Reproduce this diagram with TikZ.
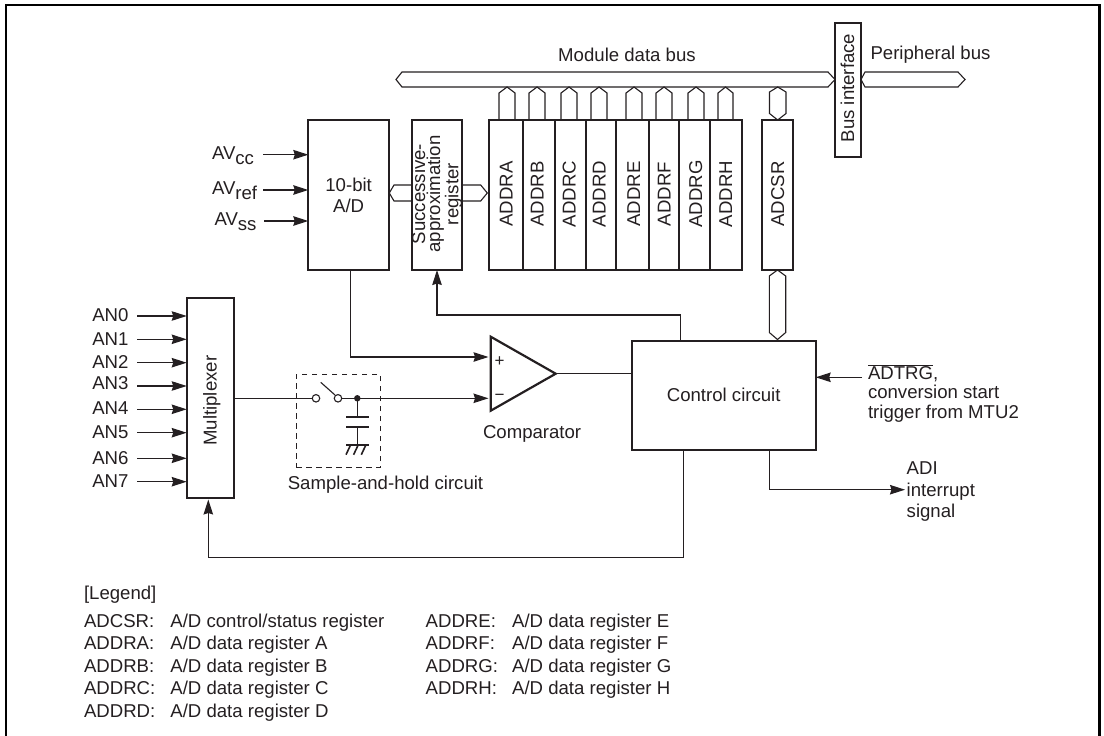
\documentclass[tikz,border=0pt]{standalone}
\usepackage{fontspec}
\setmainfont{Liberation Sans}
\usetikzlibrary{arrows.meta,calc}
\definecolor{ink}{rgb}{0.14,0.12,0.13}
\newcommand{\AVsub}[1]{AV\raisebox{-5pt}{#1}}
\tikzset{
  sig/.style={draw=ink,line width=1.1pt},
  arr/.style={sig,-{Stealth[length=15pt,width=9.5pt,inset=1.5pt]}},
  box/.style={draw=ink,line width=2.2pt,rectangle,inner sep=0pt,outer sep=0pt,font=\fontsize{18.6}{20}\selectfont,text=ink},
  bus/.style={draw=ink,line width=1.1pt,fill=white,line join=miter},
  lab/.style={inner sep=0pt,outer sep=0pt,text=ink,font=\fontsize{18.6}{20}\selectfont,text height=13pt,text depth=0pt},
  labw/.style={lab,anchor=west},
  multi/.style={inner sep=0pt,outer sep=0pt,text=ink,align=left,anchor=north west},
  vtxt/.style={lab,rotate=90}
}
\begin{document}
\begin{tikzpicture}[x=1pt,y=-1pt]
\useasboundingbox (0,0) rectangle (1104,736);
% outer frame (open at the bottom edge of the picture)
\draw[black,line width=2.4pt] (6,736) -- (6,5) -- (1099.5,5) -- (1099.5,736);

% buses
\draw[bus] (402,72) -- (828,72) -- (835,79.5) -- (828,87) -- (402,87) -- (396,79.5) -- cycle;
\draw[bus] (865,72) -- (958,72) -- (965,79.5) -- (958,87) -- (865,87) -- (861,79.5) -- cycle;
\node[lab] (mdb) at (627,55) {Module data bus};
\node[labw] (pb) at (870.5,53) {Peripheral bus};
\node[box,line width=1.1pt,minimum width=26pt,minimum height=134pt,fill=white] (bi) at (848,90) {};
\node[vtxt] (bit) at (847.7,88) {Bus interface};

% register stubs
\foreach \a/\b in {499/515,529/545,561/577,591/607,626/642,656/672,688/704,718/733}{
  \draw[bus] (\a,120) -- (\a,93) -- ({(\a+\b)/2},87) -- (\b,93) -- (\b,120);
}
\draw[bus] (769.5,113.5) -- (769.5,92) -- (777.7,87) -- (786,92) -- (786,113.5) -- (777.7,120) -- cycle;

% registers
\node[box,minimum width=33.4pt,minimum height=150pt] (ra) at (506,195) {};
\node[box,minimum width=32pt,minimum height=150pt] (rb) at (538.7,195) {};
\node[box,minimum width=31pt,minimum height=150pt] (rc) at (570.2,195) {};
\node[box,minimum width=30.6pt,minimum height=150pt] (rd) at (601,195) {};
\node[box,minimum width=32.4pt,minimum height=150pt] (re) at (632.5,195) {};
\node[box,minimum width=30.3pt,minimum height=150pt] (rf) at (663.85,195) {};
\node[box,minimum width=31pt,minimum height=150pt] (rg) at (694.5,195) {};
\node[box,minimum width=31.7pt,minimum height=150pt] (rh) at (725.85,195) {};
\node[box,minimum width=30.4pt,minimum height=150pt] (adcsr) at (777.5,195) {};
\foreach \n/\t/\x in {ta/ADDRA/506,tb/ADDRB/537,tc/ADDRC/569,td/ADDRD/599,te/ADDRE/633.5,tf/ADDRF/664,tg/ADDRG/695.5,th/ADDRH/725.5,tcsr/ADCSR/777.5}{
  \node[vtxt] (\n) at (\x,194) {\t};
}

% SAR
\draw[bus] (411.7,185) -- (394,185) -- (389.3,193) -- (394,201) -- (411.7,201);
\draw[bus] (462,185) -- (480.7,185) -- (487.3,193) -- (480.7,201) -- (462,201);
\node[box,minimum width=50.3pt,minimum height=150pt] (sar) at (436.85,195) {};
\node[inner sep=0pt,outer sep=0pt,rotate=90,align=center,text=ink,font=\fontsize{18.6}{15}\selectfont] (sart) at (437,194)
  {Successive-\\approximation\\register};

% A/D
\node[box,minimum width=80.7pt,minimum height=150pt,align=center,font=\fontsize{18.6}{21}\selectfont] (ad) at (348.65,195)
  {10-bit\\A/D};
\foreach \n/\t/\lx/\sx/\y in {avcc/cc/212/263/154.7,avref/ref/212/263/190,avss/ss/214.5/264/221}{
  \node[labw] (\n) at (\lx,\y-2) {\AVsub{\t}};
  \coordinate (\n s) at (\sx,\y);
  \draw[arr] (\n s) -- (\n s -| ad.west);
}

% Multiplexer
\node[box,minimum width=47pt,minimum height=200.6pt] (mux) at (210.2,398) {};
\node[vtxt] (muxt) at (210,400.7) {Multiplexer};
\foreach \i/\ly/\y in {0/315/316,1/339/339.3,2/362/362.7,3/383/386,4/408/409.3,5/432/432.7,6/458/458.3,7/481/481.7}{
  \node[labw] (an\i) at (92.3,\ly) {AN\i};
  \coordinate (an\i s) at (137.3,\y);
  \draw[arr] (an\i s) -- (an\i s -| mux.west);
}

% Sample and hold
\node[draw=ink,line width=1pt,rectangle,minimum width=84pt,minimum height=93pt,inner sep=0pt,outer sep=0pt,dash pattern=on 5.5pt off 4.5pt] (sh) at (338,420.5) {};
\node[lab] (sht) at (385.5,483) {Sample-and-hold circuit};

% Comparator
\coordinate (cmpA) at (490.7,336.7);
\coordinate (cmpB) at (490.7,410.7);
\coordinate (cmpT) at (555.7,373.7);
\draw[draw=ink,line width=2.2pt,line join=miter] (cmpA) -- (cmpT) -- (cmpB) -- cycle;
\node[lab,font=\fontsize{17}{20}\selectfont] (plus) at (499.7,360) {+};
\node[lab,font=\fontsize{17}{20}\selectfont] (minus) at (499.7,394) {\textminus};
\node[labw] (cmpt) at (483,432) {Comparator};

% switch, capacitor
\coordinate (swa) at (316,398.3);
\coordinate (swb) at (338,398.3);
\coordinate (jn) at (357.3,398.3);
\coordinate (pin) at (488.5,398.3);
\coordinate (pip) at (488.5,357);
\draw[sig] (mux.east |- swa) -- (swa);
\draw[sig] (swb) -- (jn);
\draw[arr] (jn) -- (pin);
\draw[sig] (320.7,382.3) -- (335,395);
\node[circle,draw=ink,fill=white,line width=1.1pt,minimum size=7.5pt,inner sep=0pt] (c1) at (swa) {};
\node[circle,draw=ink,fill=white,line width=1.1pt,minimum size=7.5pt,inner sep=0pt] (c2) at (swb) {};
\node[circle,fill=ink,minimum size=6.5pt,inner sep=0pt] (c3) at (jn) {};
\draw[sig] (jn) -- (357.3,417);
\draw[sig] (357.3,426.7) -- (357.3,444.7);
\draw[ink,line width=2pt] (346,417) -- (369,417);
\draw[ink,line width=2pt] (346,426.7) -- (369,426.7);
\draw[ink,line width=2pt] (346,444.7) -- (369,444.7);
\foreach \x in {350.7,358.3,366}{\draw[ink,line width=1.6pt] (\x,444.7) -- (\x-4.7,454.7);}

% Control circuit
\node[box,minimum width=184pt,minimum height=109pt] (ctl) at (723.7,395.2) {Control circuit};
\draw[bus] (769.3,276) -- (769.3,332.5) -- (777.5,339.5) -- (785.7,332.5) -- (785.7,276) -- (777.5,270) -- cycle;

% connectors
\coordinate (adb) at (350.7,270);
\draw[arr] (adb) |- (pip);
\draw[sig] (cmpT) -- (ctl.west |- cmpT);
\coordinate (ctop) at (680.7,340.7);
\coordinate (stgt) at (437,270);
\draw[arr] (ctop) |- (437,315) -- (stgt);
\coordinate (adtrgs) at (862,377.3);
\draw[arr] (adtrgs) -- (ctl.east |- adtrgs);
\node[multi,font=\fontsize{18.6}{19.5}\selectfont] (adtrg) at (868,364.5) {$\overline{\hbox{ADTRG}}$,\\conversion start\\trigger from MTU2};
\coordinate (adis) at (769.7,449.7);
\coordinate (adie) at (905,489.7);
\draw[arr] (adis) |- (adie);
\node[multi,font=\fontsize{18.6}{21.3}\selectfont] (adi) at (906.7,462) {ADI\\interrupt\\signal};
\coordinate (fbs) at (683.7,449.7);
\coordinate (fbe) at (208.3,499.5);
\draw[arr] (fbs) |- (208.3,557.7) -- (fbe);

% Legend
\node[labw] (lg) at (84,593) {[Legend]};
\foreach \n/\a/\b/\x/\y in {
 l1/ADCSR:/{A/D control/status register}/84/620.7,
 l2/ADDRA:/{A/D data register A}/84/643.3,
 l3/ADDRB:/{A/D data register B}/84/665.7,
 l4/ADDRC:/{A/D data register C}/84/687.7,
 l5/ADDRD:/{A/D data register D}/84/710.7,
 l6/ADDRE:/{A/D data register E}/425.7/620.7,
 l7/ADDRF:/{A/D data register F}/425.7/643.3,
 l8/ADDRG:/{A/D data register G}/425.7/665.7,
 l9/ADDRH:/{A/D data register H}/425.7/687.7}{
  \node[labw] (\n a) at (\x,\y) {\a};
  \node[labw] (\n b) at (\x+86.4,\y) {\b};
}
\end{tikzpicture}
\end{document}
